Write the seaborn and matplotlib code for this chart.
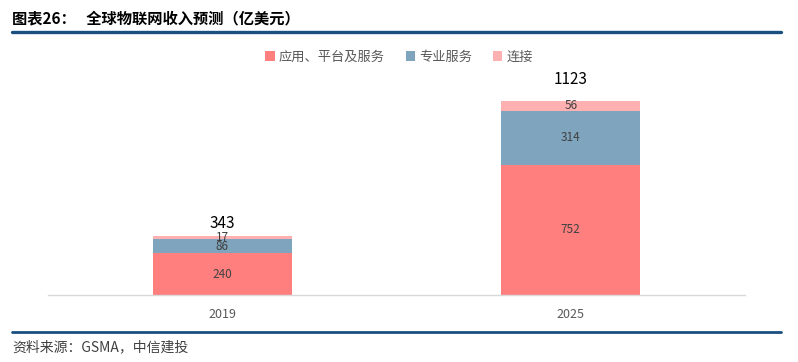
import matplotlib
matplotlib.use("Agg")
import matplotlib.pyplot as plt
import seaborn as sns
import numpy as np
import pandas as pd
from matplotlib.patches import Patch

years = ["2019", "2025"]
apps = [240, 752]
services = [86, 314]
connect = [17, 56]
totals = [343, 1123]
series_names = ["应用、平台及服务", "专业服务", "连接"]
colors = ["#FF7F7F", "#7FA4BD", "#FFB1B1"]

sns.set_theme(style="white")
plt.rcParams["font.family"] = ["Noto Sans CJK SC", "DejaVu Sans"]

W, H = 798, 362
fig = plt.figure(figsize=(W / 100, H / 100), dpi=100)

# axes in pixel coordinates
x0, x1 = 48, 745
ybase, ytop = 295, 51
ax = fig.add_axes([x0 / W, 1 - ybase / H, (x1 - x0) / W, (ybase - ytop) / H])

cum1 = np.array(apps)
cum2 = cum1 + np.array(services)
cum3 = cum2 + np.array(connect)
layers = [cum3, cum2, cum1]
layer_colors = [colors[2], colors[1], colors[0]]
for vals, col in zip(layers, layer_colors):
    df = pd.DataFrame({"year": years, "v": vals})
    sns.barplot(data=df, x="year", y="v", color=col, width=0.4, ax=ax,
                saturation=1, linewidth=0, errorbar=None)

ax.set_xlim(-0.5, 1.5)
ax.set_ylim(0, 1410)
ax.set_xlabel("")
ax.set_ylabel("")
ax.set_yticks([])
for s in ["top", "right", "left"]:
    ax.spines[s].set_visible(False)
ax.spines["bottom"].set_color("#D9D9D9")
ax.spines["bottom"].set_linewidth(1)
ax.tick_params(axis="x", length=0, labelsize=9, labelcolor="#595959", pad=9)

# segment labels
bottoms = [np.zeros(2), cum1, cum2]
for seg, bot in zip([apps, services, connect], bottoms):
    for i, v in enumerate(seg):
        ax.text(i, bot[i] + v / 2, str(v), ha="center", va="center",
                fontsize=8.5, color="#404040")

offsets = [2.5, 9]
for i, t in enumerate(totals):
    ax.annotate(str(t), xy=(i, cum3[i]), xytext=(0, offsets[i]),
                textcoords="offset points", ha="center", va="bottom",
                fontsize=11, color="black")

handles = [Patch(facecolor=c, edgecolor="none") for c in colors]
fig.legend(handles, series_names, loc="center", bbox_to_anchor=(399 / W, 1 - 57 / H),
           ncol=3, frameon=False, fontsize=9.5, handlelength=0.7, handleheight=0.7,
           handletextpad=0.3, columnspacing=1.6, labelcolor="#595959")

# title and rules
fig.text(12 / W, 1 - 18 / H, "图表26：   全球物联网收入预测（亿美元）", ha="left", va="center",
         fontsize=11, fontweight="bold", color="black")
fig.add_artist(plt.Line2D([12 / W, 781 / W], [1 - 32 / H, 1 - 32 / H], color="#1B4F80",
                          linewidth=2.4, transform=fig.transFigure))
fig.add_artist(plt.Line2D([12 / W, 781 / W], [1 - 332 / H, 1 - 332 / H], color="#1B4F80",
                          linewidth=2.0, transform=fig.transFigure))
fig.text(12 / W, 1 - 347 / H, "资料来源：GSMA，中信建投", ha="left", va="center",
         fontsize=10, style="italic", color="#404040")

fig.savefig("out.png", dpi=100)
